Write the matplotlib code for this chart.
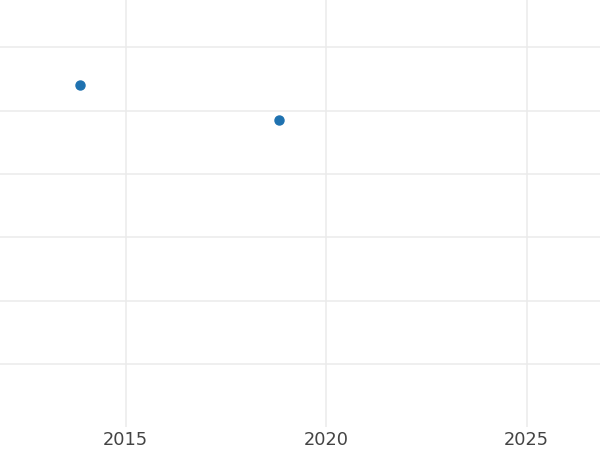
import matplotlib
matplotlib.use("Agg")
import matplotlib.pyplot as plt

years = [2013.87, 2018.82]
values = [5.40, 4.85]
xticks = [2015, 2020, 2025]
yticks = [1, 2, 3, 4, 5, 6]

fig = plt.figure(figsize=(6, 4.5), dpi=100)
ax = fig.add_axes([0, 1 - 427 / 450, 1, 427 / 450])

ax.plot(years, values, 'o', color='#1f72b0', markersize=6.5, zorder=3)

ax.set_xlim(2011.87, 2026.83)
ax.set_ylim(0.01, 6.746)
ax.set_xticks(xticks)
ax.set_xticklabels([str(t) for t in xticks])
ax.set_yticks(yticks)
ax.set_yticklabels([])
ax.grid(True, color='#ebebeb', linewidth=1.1)
ax.tick_params(length=0, labelsize=12.8, labelcolor='#444444', pad=3)
for s in ax.spines.values():
    s.set_visible(False)

fig.savefig("out.png", dpi=100)
